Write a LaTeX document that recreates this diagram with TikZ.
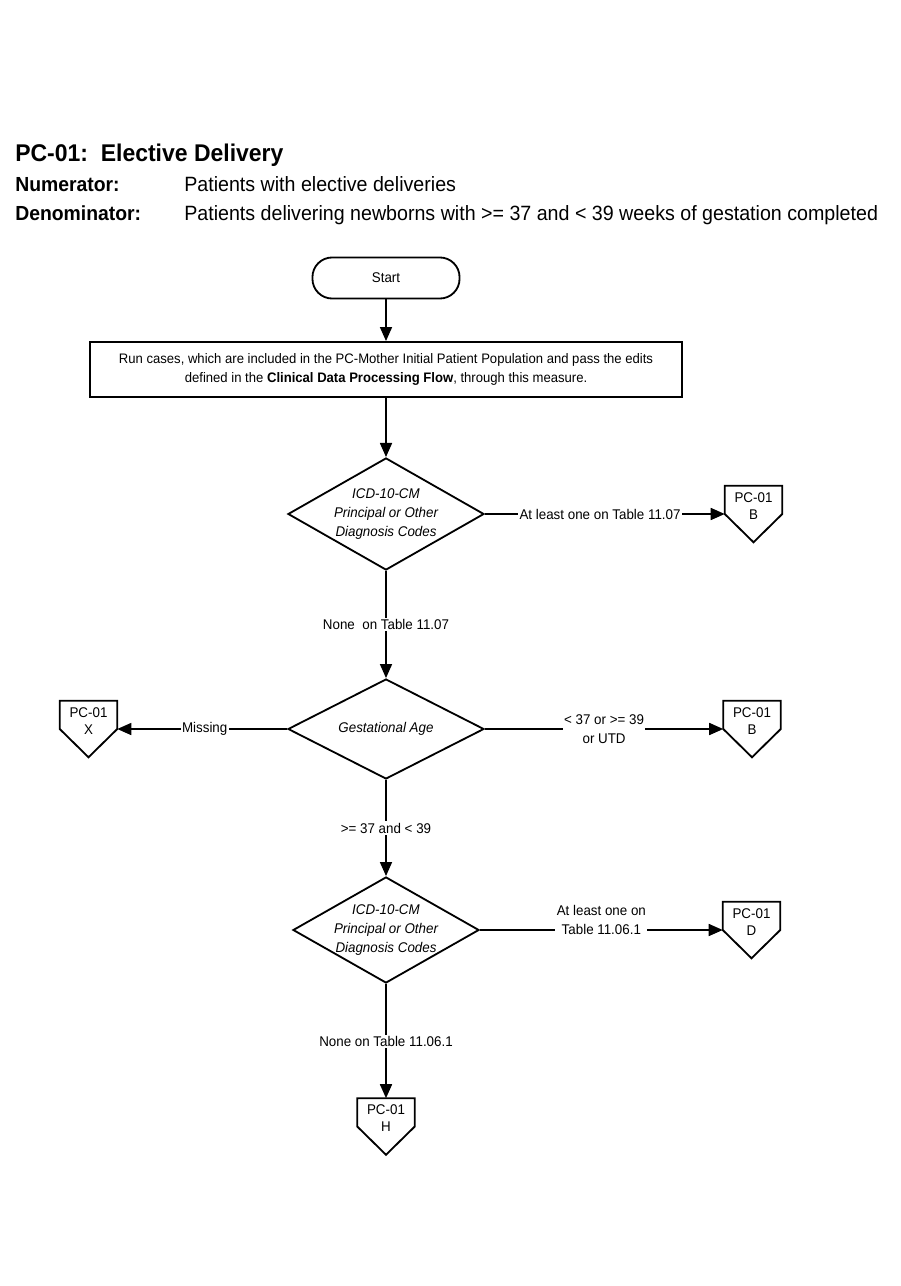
\documentclass[tikz,border=0pt]{standalone}
\usepackage{fontspec}
\setmainfont{Liberation Sans}[FakeStretch=0.95]
\usetikzlibrary{shapes.geometric,arrows.meta}

\begin{document}
\begin{tikzpicture}[x=0.025cm,y=-0.025cm,font=\fontsize{10}{13.5}\selectfont]
  \tikzset{T/.style={draw, line width=1.3pt, rounded corners=14pt, minimum width=104.6pt, minimum height=29.2pt}}
  \tikzset{B/.style={draw, line width=1.3pt, align=center, minimum width=421pt, minimum height=39.1pt, font=\fontsize{9.8}{14}\selectfont}}
  \tikzset{D/.style={diamond, draw, line width=1.3pt, aspect=1.75, inner sep=0pt, align=center, font=\fontsize{10}{13.5}\selectfont\itshape}}
  \tikzset{OP/.style={minimum width=40.5pt, minimum height=39.8pt, inner sep=0pt}}
  \tikzset{OPT/.style={align=center, yshift=5.7pt, font=\fontsize{10}{12}\selectfont}}
  \tikzset{OL/.style={line width=1.3pt, line join=miter}}
  \tikzset{A/.style={line width=1.3pt, -{Triangle[length=10pt,width=8.5pt]}}}
  \tikzset{L/.style={fill=white, align=center, inner xsep=1pt, inner ysep=1pt, font=\fontsize{10}{13.5}\selectfont}}
  \tikzset{H/.style={anchor=base west, inner sep=0pt}}

  \useasboundingbox (0,0) rectangle (900,1286);

  % heading
  \node [H, font=\fontsize{17.2}{20}\selectfont\bfseries] (title) at (15,162) {PC-01:\ \ Elective Delivery};
  \node [H, font=\fontsize{14.5}{17}\selectfont\bfseries] (numl) at (15,192) {Numerator:};
  \node [H, font=\fontsize{14.7}{17}\selectfont] (numt) at (184,192) {Patients with elective deliveries};
  \node [H, font=\fontsize{14.5}{17}\selectfont\bfseries] (denl) at (15,221) {Denominator:};
  \node [H, font=\fontsize{14.7}{17}\selectfont] (dent) at (184,221) {Patients delivering newborns with >= 37 and < 39 weeks of gestation completed};

  % flow
  \node [T] (start) at (386,278) {Start};
  \node [B] (run)   at (386,369.5) {Run cases, which are included in the PC-Mother Initial Patient Population and pass the edits\\defined in the \textbf{Clinical Data Processing Flow}, through this measure.};
  \node [D, minimum width=139.4pt, minimum height=79.7pt] (icd1) at (386,514) {ICD-10-CM\\Principal or Other\\Diagnosis Codes};
  \node [D, minimum width=139.4pt, minimum height=71.1pt] (gest) at (386,729) {Gestational Age};
  \node [D, minimum width=132.3pt, minimum height=75.4pt, inner sep=-4pt] (icd2) at (386,930) {ICD-10-CM\\Principal or Other\\Diagnosis Codes};

  \node [OP, label={[OPT]center:{PC-01\\B}}] (pcb1) at (753.5,514) {};
  \node [OP, label={[OPT]center:{PC-01\\X}}] (pcx)  at (88.5,729)  {};
  \node [OP, label={[OPT]center:{PC-01\\B}}] (pcb2) at (752,729)   {};
  \node [OP, label={[OPT]center:{PC-01\\D}}] (pcd)  at (751.5,930) {};
  \node [OP, label={[OPT]center:{PC-01\\H}}] (pch)  at (386,1126.5) {};

  \foreach \n in {pcb1,pcx,pcb2,pcd,pch}
    \draw[OL] (\n.north west) -- (\n.north east) -- (\n.east) -- (\n.south) -- (\n.west) -- cycle;

  \foreach \from/\to in {start/run,run/icd1}
    \draw[A] (\from) -- (\to);
  \foreach \from/\to/\p/\txt in {icd1/pcb1/0.48/{At least one on Table 11.07},
                                 icd1/gest/0.5/{None\ \ on Table 11.07},
                                 gest/pcx/0.485/{Missing},
                                 gest/pcb2/0.5/{< 37 or >= 39\\or UTD},
                                 gest/icd2/0.5/{>= 37 and < 39},
                                 icd2/pch/0.5/{None on Table 11.06.1}}
    \draw[A] (\from) -- node [L, pos=\p] {\txt} (\to);
  \draw[A] (icd2) -- node [L, pos=0.5, yshift=7pt] {At least one on\\Table 11.06.1} (pcd);
\end{tikzpicture}
\end{document}
